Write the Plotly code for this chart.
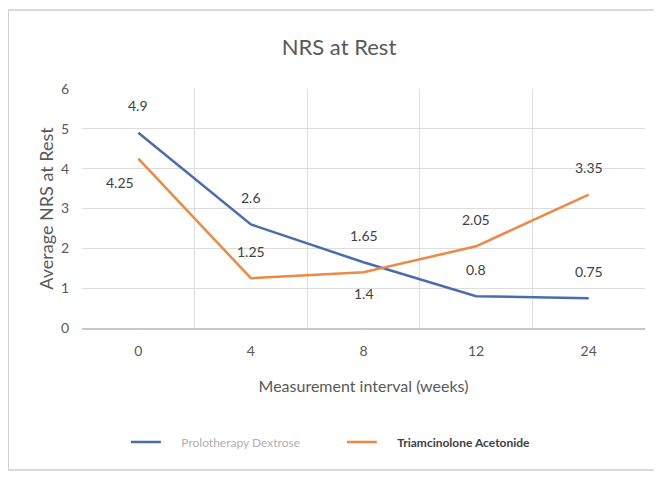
import plotly.graph_objects as go

weeks = ["0", "4", "8", "12", "24"]
prolo = [4.9, 2.6, 1.65, 0.8, 0.75]
triam = [4.25, 1.25, 1.4, 2.05, 3.35]
series_names = ["Prolotherapy Dextrose", "Triamcinolone Acetonide"]

blue = "#4a6cad"
orange = "#ec8a45"
font_family = "Lato, 'Open Sans', sans-serif"
pad = "&nbsp;" * 5

fig = go.Figure()
fig.add_trace(go.Scatter(x=weeks, y=prolo, mode="lines",
                         line=dict(color=blue, width=2.5),
                         name=pad + "<span style='color:#b0b0b0'>" + series_names[0] + "</span>" + "&nbsp;" * 12))
fig.add_trace(go.Scatter(x=weeks, y=triam, mode="lines",
                         line=dict(color=orange, width=2.5),
                         name=pad + "<b>" + series_names[1] + "</b>"))

annotations = []
for i, v in enumerate(prolo):
    annotations.append(dict(x=i, y=v, xref="x", yref="y", text=str(v), showarrow=False, yshift=27,
                            font=dict(size=14, color="#404040")))
tri_offsets = [(-18, -24), (0, 27), (0, -21), (0, 27), (0, 27)]
for i, (v, (dx, dy)) in enumerate(zip(triam, tri_offsets)):
    annotations.append(dict(x=i, y=v, xref="x", yref="y", text=str(v), showarrow=False,
                            xshift=dx, yshift=dy, font=dict(size=14, color="#404040")))

fig.update_layout(
    width=662, height=479,
    margin=dict(l=74, r=25, t=81, b=159),
    paper_bgcolor="white", plot_bgcolor="white",
    font=dict(family=font_family, color="#595959"),
    title=dict(text="NRS at Rest", x=0.5, xanchor="center", y=0.9186, yanchor="middle",
               font=dict(size=22, color="#595959")),
    showlegend=True,
    legend=dict(orientation="h", x=0.078, xanchor="left", y=-0.477, yanchor="middle",
                font=dict(size=12, color="#404040")),
    annotations=annotations,
    xaxis=dict(type="category", tickson="boundaries", showgrid=True, gridcolor="#dcdcdc",
               ticks="", showline=True, linecolor="#c8c8c8", linewidth=1.5, automargin=False,
               tickfont=dict(size=14, color="#595959"), ticklabelstandoff=9,
               title=dict(text="Measurement interval (weeks)", font=dict(size=16, color="#595959"),
                          standoff=23),
               range=[-0.5, 4.5]),
    yaxis=dict(range=[0, 6], dtick=1, showgrid=True, gridcolor="#dcdcdc", zeroline=False,
               ticks="", tickfont=dict(size=14, color="#595959"), ticklabelstandoff=12,
               automargin=False,
               title=dict(text="Average NRS at Rest", font=dict(size=18, color="#595959"),
                          standoff=2)),
    shapes=[dict(type="rect", xref="paper", yref="paper", x0=-0.131, x1=1.018,
                 y0=-0.594, y1=1.331, line=dict(color="#d0d0d0", width=1.5), layer="below")],
)

fig.write_html("out.html")
